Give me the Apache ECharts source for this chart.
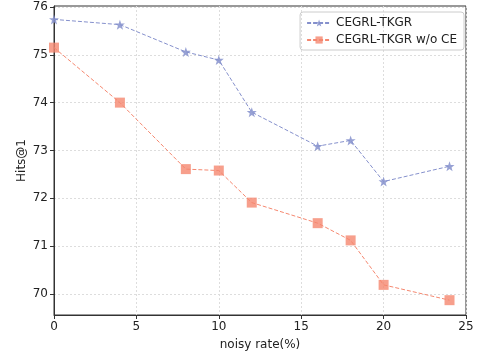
<!DOCTYPE html>
<html><head><meta charset="utf-8">
<script src="https://cdn.jsdelivr.net/npm/echarts@6/dist/echarts.min.js"></script>
<style>html,body{margin:0;padding:0;background:#fff}#c{width:477px;height:356px}</style>
</head><body><div id="c"></div>
<script>
const xValues = [0, 4, 8, 10, 12, 16, 18, 20, 24];
const seriesNames = ['CEGRL-TKGR', 'CEGRL-TKGR w/o CE'];
const fullValues = [75.74, 75.63, 75.06, 74.89, 73.80, 73.09, 73.21, 72.35, 72.67];
const noCEValues = [75.15, 74.00, 72.61, 72.58, 71.91, 71.48, 71.12, 70.19, 69.87];
const xTicks = [0, 5, 10, 15, 20, 25];
const yTicks = [70, 71, 72, 73, 74, 75, 76];

const font = 'DejaVu Sans';
const blue = '#8590cc';
const red = '#f5876f';
const chart = echarts.init(document.getElementById('c'));
const pairs = v => xValues.map((x, i) => [x, v[i]]);
chart.setOption({
  animation: false,
  grid: {left: 54, right: 11, top: 6, bottom: 41, show: true, borderColor: '#333', borderWidth: 1},
  legend: {
    top: 12, right: 13, orient: 'vertical', itemGap: 5,
    borderColor: '#ccc', borderWidth: 1, borderRadius: 3, padding: [5, 7, 4, 6],
    itemWidth: 24, itemHeight: 9,
    textStyle: {fontFamily: font, fontSize: 12, color: '#222'},
    data: seriesNames
  },
  xAxis: {
    type: 'value', min: 0, max: 25, interval: 5,
    name: 'noisy rate(%)', nameLocation: 'middle', nameGap: 24, nameMoveOverlap: false,
    nameTextStyle: {fontFamily: font, fontSize: 12, color: '#222'},
    axisLine: {lineStyle: {color: '#333', width: 1}},
    axisTick: {show: true, length: 4, lineStyle: {color: '#333'}, customValues: xTicks},
    axisLabel: {fontFamily: font, fontSize: 12, color: '#222', margin: 6, customValues: xTicks},
    splitLine: {show: true, lineStyle: {color: '#ddd', type: [2, 2]}}
  },
  yAxis: {
    type: 'value', min: 69.56, max: 76.02,
    name: 'Hits@1', nameLocation: 'middle', nameGap: 26, nameMoveOverlap: false,
    nameTextStyle: {fontFamily: font, fontSize: 12, color: '#222'},
    axisLine: {show: true, lineStyle: {color: '#333', width: 1}},
    axisTick: {show: true, length: 4, lineStyle: {color: '#333'}, customValues: yTicks},
    axisLabel: {fontFamily: font, fontSize: 12, color: '#222', margin: 6, customValues: yTicks},
    splitLine: {show: false}
  },
  series: [
    {
      name: seriesNames[0], type: 'line', data: pairs(fullValues),
      symbol: 'path://M0,-10L2.35,-3.24L9.51,-3.09L3.8,1.24L5.88,8.09L0,4L-5.88,8.09L-3.8,1.24L-9.51,-3.09L-2.35,-3.24Z',
      symbolSize: 10,
      itemStyle: {color: blue, opacity: 0.85},
      lineStyle: {color: blue, width: 1, type: [4, 2]}
    },
    {
      name: seriesNames[1], type: 'line', data: pairs(noCEValues),
      symbol: 'rect', symbolSize: 10,
      itemStyle: {color: red, opacity: 0.8},
      lineStyle: {color: red, width: 1, type: [4, 2]},
      markLine: {
        silent: true, symbol: 'none', label: {show: false}, z: 0,
        lineStyle: {color: '#ddd', type: [2, 2], width: 1},
        data: yTicks.map(v => ({yAxis: v}))
      }
    }
  ]
});
</script></body></html>
